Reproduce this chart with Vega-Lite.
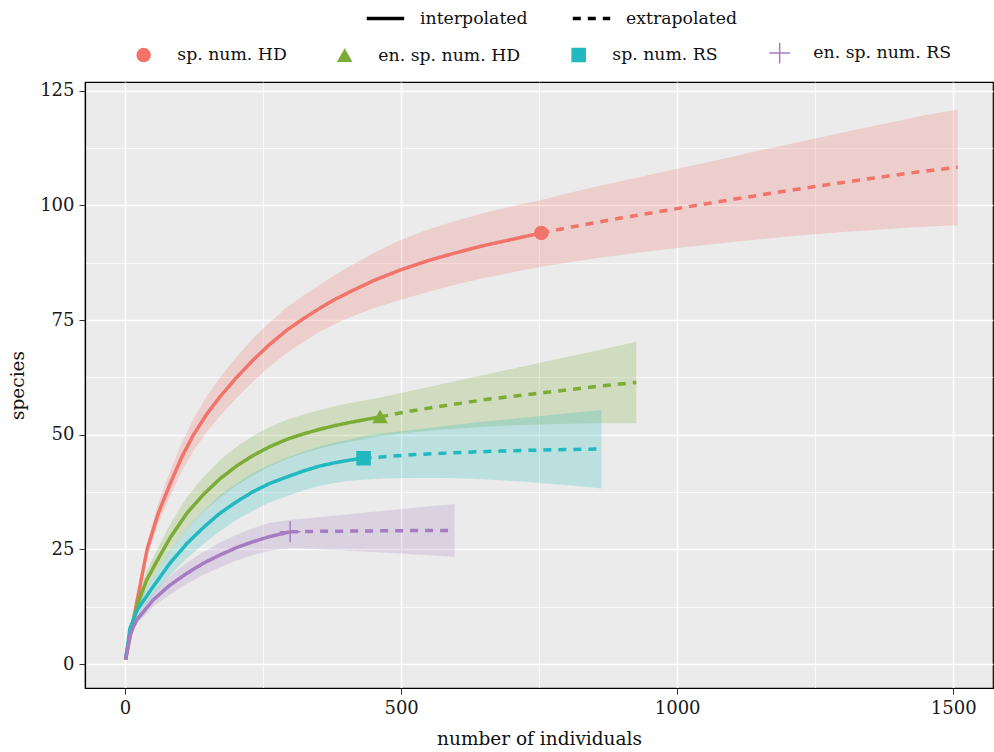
{
  "$schema": "https://vega.github.io/schema/vega-lite/v6.json",
  "width": 908,
  "height": 606,
  "autosize": {"type": "none"},
  "padding": {"left": 85, "top": 82, "right": 1, "bottom": 64},
  "background": "white",
  "config": {
    "view": {"fill": "#EBEBEB", "stroke": "black", "strokeWidth": 1.2},
    "font": "DejaVu Serif",
    "axis": {
      "labelFont": "DejaVu Serif", "titleFont": "DejaVu Serif",
      "labelFontSize": 18, "titleFontSize": 18.5, "labelColor": "#1a1a1a", "titleColor": "#111",
      "titleFontWeight": "normal", "gridColor": "white", "gridWidth": 1.5,
      "domainColor": "black", "domainWidth": 1.2, "tickColor": "#333", "tickSize": 6
    },
    "legend": {"labelFont": "DejaVu Serif", "labelFontSize": 17.3, "labelColor": "#111"}
  },
  "datasets": {
    "curves": [
      {"s": "sp. num. HD", "m": "interpolated", "x": 1, "y": 1, "lo": 1, "hi": 1},
      {"s": "sp. num. HD", "m": "interpolated", "x": 40, "y": 25, "lo": 23.5, "hi": 26.5},
      {"s": "sp. num. HD", "m": "interpolated", "x": 60, "y": 32.8, "lo": 30.6, "hi": 35.0},
      {"s": "sp. num. HD", "m": "interpolated", "x": 82, "y": 39.4, "lo": 36.7, "hi": 42.1},
      {"s": "sp. num. HD", "m": "interpolated", "x": 103, "y": 45.2, "lo": 42.1, "hi": 48.3},
      {"s": "sp. num. HD", "m": "interpolated", "x": 124, "y": 50.0, "lo": 46.5, "hi": 53.5},
      {"s": "sp. num. HD", "m": "interpolated", "x": 148, "y": 54.5, "lo": 50.6, "hi": 58.4},
      {"s": "sp. num. HD", "m": "interpolated", "x": 172, "y": 58.3, "lo": 54.1, "hi": 62.5},
      {"s": "sp. num. HD", "m": "interpolated", "x": 202, "y": 62.5, "lo": 58.0, "hi": 67.0},
      {"s": "sp. num. HD", "m": "interpolated", "x": 232, "y": 66.3, "lo": 61.6, "hi": 71.0},
      {"s": "sp. num. HD", "m": "interpolated", "x": 262, "y": 69.7, "lo": 64.9, "hi": 74.5},
      {"s": "sp. num. HD", "m": "interpolated", "x": 293, "y": 72.8, "lo": 67.8, "hi": 77.8},
      {"s": "sp. num. HD", "m": "interpolated", "x": 323, "y": 75.3, "lo": 70.25, "hi": 80.35},
      {"s": "sp. num. HD", "m": "interpolated", "x": 353, "y": 77.6, "lo": 72.5, "hi": 82.7},
      {"s": "sp. num. HD", "m": "interpolated", "x": 380, "y": 79.5, "lo": 74.15, "hi": 84.85},
      {"s": "sp. num. HD", "m": "interpolated", "x": 408, "y": 81.2, "lo": 75.6, "hi": 86.8},
      {"s": "sp. num. HD", "m": "interpolated", "x": 450, "y": 83.6, "lo": 77.6, "hi": 89.6},
      {"s": "sp. num. HD", "m": "interpolated", "x": 498, "y": 85.9, "lo": 79.4, "hi": 92.4},
      {"s": "sp. num. HD", "m": "interpolated", "x": 550, "y": 88.0, "lo": 81.2, "hi": 94.8},
      {"s": "sp. num. HD", "m": "interpolated", "x": 585, "y": 89.2, "lo": 82.3, "hi": 96.1},
      {"s": "sp. num. HD", "m": "interpolated", "x": 619, "y": 90.3, "lo": 83.3, "hi": 97.3},
      {"s": "sp. num. HD", "m": "interpolated", "x": 655, "y": 91.4, "lo": 84.3, "hi": 98.5},
      {"s": "sp. num. HD", "m": "interpolated", "x": 690, "y": 92.3, "lo": 85.1, "hi": 99.5},
      {"s": "sp. num. HD", "m": "interpolated", "x": 720, "y": 93.1, "lo": 85.85, "hi": 100.35},
      {"s": "sp. num. HD", "m": "interpolated", "x": 754, "y": 94.0, "lo": 86.6, "hi": 101.2},
      {"s": "sp. num. HD", "m": "extrapolated", "x": 754, "y": 94.0, "lo": 86.6, "hi": 101.2},
      {"s": "sp. num. HD", "m": "extrapolated", "x": 800, "y": 95.1, "lo": 87.5, "hi": 102.6},
      {"s": "sp. num. HD", "m": "extrapolated", "x": 850, "y": 96.2, "lo": 88.4, "hi": 104.0},
      {"s": "sp. num. HD", "m": "extrapolated", "x": 900, "y": 97.3, "lo": 89.2, "hi": 105.3},
      {"s": "sp. num. HD", "m": "extrapolated", "x": 950, "y": 98.3, "lo": 90.0, "hi": 106.7},
      {"s": "sp. num. HD", "m": "extrapolated", "x": 1000, "y": 99.3, "lo": 90.7, "hi": 108.0},
      {"s": "sp. num. HD", "m": "extrapolated", "x": 1050, "y": 100.3, "lo": 91.35, "hi": 109.3},
      {"s": "sp. num. HD", "m": "extrapolated", "x": 1100, "y": 101.3, "lo": 92.0, "hi": 110.6},
      {"s": "sp. num. HD", "m": "extrapolated", "x": 1150, "y": 102.25, "lo": 92.6, "hi": 112.0},
      {"s": "sp. num. HD", "m": "extrapolated", "x": 1200, "y": 103.2, "lo": 93.2, "hi": 113.3},
      {"s": "sp. num. HD", "m": "extrapolated", "x": 1250, "y": 104.1, "lo": 93.7, "hi": 114.6},
      {"s": "sp. num. HD", "m": "extrapolated", "x": 1300, "y": 105.0, "lo": 94.2, "hi": 115.9},
      {"s": "sp. num. HD", "m": "extrapolated", "x": 1350, "y": 105.85, "lo": 94.6, "hi": 117.2},
      {"s": "sp. num. HD", "m": "extrapolated", "x": 1400, "y": 106.7, "lo": 95.0, "hi": 118.4},
      {"s": "sp. num. HD", "m": "extrapolated", "x": 1450, "y": 107.5, "lo": 95.35, "hi": 119.7},
      {"s": "sp. num. HD", "m": "extrapolated", "x": 1508, "y": 108.3, "lo": 95.7, "hi": 120.9},

      {"s": "en. sp. num. HD", "m": "interpolated", "x": 1, "y": 1, "lo": 1, "hi": 1},
      {"s": "en. sp. num. HD", "m": "interpolated", "x": 9, "y": 6.7, "lo": 5.9, "hi": 7.5},
      {"s": "en. sp. num. HD", "m": "interpolated", "x": 24, "y": 13.5, "lo": 12.2, "hi": 14.8},
      {"s": "en. sp. num. HD", "m": "interpolated", "x": 39, "y": 18.3, "lo": 16.3, "hi": 20.3},
      {"s": "en. sp. num. HD", "m": "interpolated", "x": 63, "y": 23.6, "lo": 21.0, "hi": 26.2},
      {"s": "en. sp. num. HD", "m": "interpolated", "x": 82, "y": 27.6, "lo": 24.6, "hi": 30.6},
      {"s": "en. sp. num. HD", "m": "interpolated", "x": 112, "y": 32.9, "lo": 29.4, "hi": 36.4},
      {"s": "en. sp. num. HD", "m": "interpolated", "x": 142, "y": 37.0, "lo": 33.2, "hi": 40.8},
      {"s": "en. sp. num. HD", "m": "interpolated", "x": 172, "y": 40.4, "lo": 36.3, "hi": 44.5},
      {"s": "en. sp. num. HD", "m": "interpolated", "x": 202, "y": 43.2, "lo": 39.0, "hi": 47.4},
      {"s": "en. sp. num. HD", "m": "interpolated", "x": 232, "y": 45.5, "lo": 41.2, "hi": 49.8},
      {"s": "en. sp. num. HD", "m": "interpolated", "x": 262, "y": 47.4, "lo": 43.1, "hi": 51.7},
      {"s": "en. sp. num. HD", "m": "interpolated", "x": 293, "y": 49.0, "lo": 44.7, "hi": 53.3},
      {"s": "en. sp. num. HD", "m": "interpolated", "x": 323, "y": 50.2, "lo": 46.0, "hi": 54.4},
      {"s": "en. sp. num. HD", "m": "interpolated", "x": 353, "y": 51.2, "lo": 47.0, "hi": 55.4},
      {"s": "en. sp. num. HD", "m": "interpolated", "x": 380, "y": 52.0, "lo": 47.8, "hi": 56.2},
      {"s": "en. sp. num. HD", "m": "interpolated", "x": 408, "y": 52.7, "lo": 48.5, "hi": 56.9},
      {"s": "en. sp. num. HD", "m": "interpolated", "x": 435, "y": 53.3, "lo": 49.1, "hi": 57.5},
      {"s": "en. sp. num. HD", "m": "interpolated", "x": 462, "y": 53.9, "lo": 49.7, "hi": 58.1},
      {"s": "en. sp. num. HD", "m": "extrapolated", "x": 462, "y": 53.9, "lo": 49.7, "hi": 58.1},
      {"s": "en. sp. num. HD", "m": "extrapolated", "x": 510, "y": 55.0, "lo": 50.4, "hi": 59.4},
      {"s": "en. sp. num. HD", "m": "extrapolated", "x": 560, "y": 56.0, "lo": 51.0, "hi": 60.7},
      {"s": "en. sp. num. HD", "m": "extrapolated", "x": 610, "y": 56.9, "lo": 51.4, "hi": 62.0},
      {"s": "en. sp. num. HD", "m": "extrapolated", "x": 660, "y": 57.8, "lo": 51.8, "hi": 63.3},
      {"s": "en. sp. num. HD", "m": "extrapolated", "x": 710, "y": 58.5, "lo": 52.1, "hi": 64.6},
      {"s": "en. sp. num. HD", "m": "extrapolated", "x": 760, "y": 59.2, "lo": 52.3, "hi": 65.9},
      {"s": "en. sp. num. HD", "m": "extrapolated", "x": 810, "y": 59.9, "lo": 52.4, "hi": 67.2},
      {"s": "en. sp. num. HD", "m": "extrapolated", "x": 860, "y": 60.6, "lo": 52.5, "hi": 68.5},
      {"s": "en. sp. num. HD", "m": "extrapolated", "x": 926, "y": 61.4, "lo": 52.5, "hi": 70.3},

      {"s": "sp. num. RS", "m": "interpolated", "x": 1, "y": 1, "lo": 1, "hi": 1},
      {"s": "sp. num. RS", "m": "interpolated", "x": 9, "y": 7.8, "lo": 7.0, "hi": 8.6},
      {"s": "sp. num. RS", "m": "interpolated", "x": 22, "y": 11.8, "lo": 10.6, "hi": 13.0},
      {"s": "sp. num. RS", "m": "interpolated", "x": 51, "y": 16.9, "lo": 15.0, "hi": 18.8},
      {"s": "sp. num. RS", "m": "interpolated", "x": 80, "y": 21.8, "lo": 19.2, "hi": 24.4},
      {"s": "sp. num. RS", "m": "interpolated", "x": 112, "y": 26.3, "lo": 23.1, "hi": 29.5},
      {"s": "sp. num. RS", "m": "interpolated", "x": 142, "y": 29.8, "lo": 26.2, "hi": 33.4},
      {"s": "sp. num. RS", "m": "interpolated", "x": 172, "y": 32.9, "lo": 29.0, "hi": 36.8},
      {"s": "sp. num. RS", "m": "interpolated", "x": 202, "y": 35.4, "lo": 31.4, "hi": 39.4},
      {"s": "sp. num. RS", "m": "interpolated", "x": 232, "y": 37.6, "lo": 33.5, "hi": 41.7},
      {"s": "sp. num. RS", "m": "interpolated", "x": 262, "y": 39.4, "lo": 35.3, "hi": 43.5},
      {"s": "sp. num. RS", "m": "interpolated", "x": 293, "y": 40.8, "lo": 36.6, "hi": 45.0},
      {"s": "sp. num. RS", "m": "interpolated", "x": 323, "y": 42.1, "lo": 37.9, "hi": 46.3},
      {"s": "sp. num. RS", "m": "interpolated", "x": 353, "y": 43.2, "lo": 38.9, "hi": 47.5},
      {"s": "sp. num. RS", "m": "interpolated", "x": 380, "y": 43.9, "lo": 39.5, "hi": 48.3},
      {"s": "sp. num. RS", "m": "interpolated", "x": 408, "y": 44.5, "lo": 40.0, "hi": 49.0},
      {"s": "sp. num. RS", "m": "interpolated", "x": 432, "y": 44.9, "lo": 40.2, "hi": 49.8},
      {"s": "sp. num. RS", "m": "extrapolated", "x": 432, "y": 44.9, "lo": 40.2, "hi": 49.8},
      {"s": "sp. num. RS", "m": "extrapolated", "x": 480, "y": 45.3, "lo": 40.5, "hi": 50.5},
      {"s": "sp. num. RS", "m": "extrapolated", "x": 530, "y": 45.7, "lo": 40.6, "hi": 51.2},
      {"s": "sp. num. RS", "m": "extrapolated", "x": 580, "y": 46.0, "lo": 40.6, "hi": 51.9},
      {"s": "sp. num. RS", "m": "extrapolated", "x": 630, "y": 46.25, "lo": 40.4, "hi": 52.6},
      {"s": "sp. num. RS", "m": "extrapolated", "x": 680, "y": 46.45, "lo": 40.1, "hi": 53.2},
      {"s": "sp. num. RS", "m": "extrapolated", "x": 730, "y": 46.6, "lo": 39.7, "hi": 53.8},
      {"s": "sp. num. RS", "m": "extrapolated", "x": 780, "y": 46.75, "lo": 39.2, "hi": 54.4},
      {"s": "sp. num. RS", "m": "extrapolated", "x": 830, "y": 46.85, "lo": 38.7, "hi": 55.0},
      {"s": "sp. num. RS", "m": "extrapolated", "x": 863, "y": 46.9, "lo": 38.3, "hi": 55.4},

      {"s": "en. sp. num. RS", "m": "interpolated", "x": 1, "y": 1, "lo": 1, "hi": 1},
      {"s": "en. sp. num. RS", "m": "interpolated", "x": 9, "y": 6.2, "lo": 5.6, "hi": 6.8},
      {"s": "en. sp. num. RS", "m": "interpolated", "x": 15, "y": 8.1, "lo": 7.3, "hi": 8.9},
      {"s": "en. sp. num. RS", "m": "interpolated", "x": 21, "y": 9.6, "lo": 8.7, "hi": 10.5},
      {"s": "en. sp. num. RS", "m": "interpolated", "x": 51, "y": 14.0, "lo": 12.5, "hi": 15.5},
      {"s": "en. sp. num. RS", "m": "interpolated", "x": 80, "y": 17.1, "lo": 15.1, "hi": 19.1},
      {"s": "en. sp. num. RS", "m": "interpolated", "x": 112, "y": 19.8, "lo": 17.5, "hi": 22.1},
      {"s": "en. sp. num. RS", "m": "interpolated", "x": 142, "y": 22.0, "lo": 19.5, "hi": 24.5},
      {"s": "en. sp. num. RS", "m": "interpolated", "x": 172, "y": 23.8, "lo": 21.1, "hi": 26.5},
      {"s": "en. sp. num. RS", "m": "interpolated", "x": 202, "y": 25.4, "lo": 22.6, "hi": 28.2},
      {"s": "en. sp. num. RS", "m": "interpolated", "x": 232, "y": 26.7, "lo": 23.8, "hi": 29.6},
      {"s": "en. sp. num. RS", "m": "interpolated", "x": 262, "y": 27.8, "lo": 24.7, "hi": 30.8},
      {"s": "en. sp. num. RS", "m": "interpolated", "x": 299, "y": 28.85, "lo": 25.3, "hi": 31.4},
      {"s": "en. sp. num. RS", "m": "extrapolated", "x": 299, "y": 28.85, "lo": 25.3, "hi": 31.4},
      {"s": "en. sp. num. RS", "m": "extrapolated", "x": 350, "y": 28.95, "lo": 25.05, "hi": 32.0},
      {"s": "en. sp. num. RS", "m": "extrapolated", "x": 400, "y": 29.0, "lo": 24.8, "hi": 32.6},
      {"s": "en. sp. num. RS", "m": "extrapolated", "x": 450, "y": 29.05, "lo": 24.45, "hi": 33.2},
      {"s": "en. sp. num. RS", "m": "extrapolated", "x": 500, "y": 29.1, "lo": 24.1, "hi": 33.8},
      {"s": "en. sp. num. RS", "m": "extrapolated", "x": 550, "y": 29.12, "lo": 23.75, "hi": 34.35},
      {"s": "en. sp. num. RS", "m": "extrapolated", "x": 597, "y": 29.15, "lo": 23.4, "hi": 34.9}
    ],
    "obs": [
      {"s": "sp. num. HD", "x": 754, "y": 94.0},
      {"s": "en. sp. num. HD", "x": 462, "y": 53.9},
      {"s": "sp. num. RS", "x": 432, "y": 44.9},
      {"s": "en. sp. num. RS", "x": 299, "y": 28.85}
    ]
  },
  "resolve": {"axis": {"x": "independent", "y": "independent"}},
  "layer": [
    {
      "data": {"name": "curves"},
      "mark": {"type": "area", "opacity": 0.23},
      "encoding": {
        "x": {"field": "x", "type": "quantitative", "scale": {"domain": [-72.5, 1572], "nice": false, "zero": false},
              "axis": {"orient": "top", "values": [250, 750, 1250], "grid": true, "gridWidth": 0.7, "labels": false, "ticks": false, "domain": false, "title": null}},
        "y": {"field": "hi", "type": "quantitative", "scale": {"domain": [-5.2, 126.9], "nice": false, "zero": false},
              "axis": {"orient": "right", "values": [12.5, 37.5, 62.5, 87.5, 112.5], "grid": true, "gridWidth": 0.7, "labels": false, "ticks": false, "domain": false, "title": null}},
        "y2": {"field": "lo"},
        "color": {"field": "s", "type": "nominal",
                  "scale": {"domain": ["sp. num. HD", "en. sp. num. HD", "sp. num. RS", "en. sp. num. RS"], "range": ["#F1736A", "#7BAC35", "#22B8BF", "#A57CC2"]},
                  "legend": {"title": null, "orient": "none", "direction": "horizontal", "legendX": 50, "legendY": -38, "symbolSize": 170, "labelOffset": 25, "columnPadding": 48, "symbolOpacity": 1}}
      }
    },
    {
      "data": {"name": "curves"},
      "mark": {"type": "line", "strokeWidth": 3.5},
      "encoding": {
        "x": {"field": "x", "type": "quantitative", "axis": {"title": "number of individuals", "values": [0, 500, 1000, 1500], "format": "d", "grid": true, "labelPadding": 5, "titlePadding": 12}},
        "y": {"field": "y", "type": "quantitative", "axis": {"title": "species", "values": [0, 25, 50, 75, 100, 125], "format": "d", "grid": true, "labelPadding": 5, "titlePadding": 12}},
        "color": {"field": "s", "type": "nominal"},
        "strokeDash": {"field": "m", "type": "nominal",
                       "scale": {"domain": ["interpolated", "extrapolated"], "range": [[1, 0], [8, 7]]},
                       "legend": {"title": null, "orient": "none", "direction": "horizontal", "legendX": 280, "legendY": -84, "symbolSize": 1400, "symbolStrokeColor": "black", "symbolStrokeWidth": 3.5, "labelOffset": 14, "columnPadding": 37}}
      }
    },
    {
      "data": {"name": "obs"},
      "mark": {"type": "point", "filled": true, "opacity": 1, "strokeWidth": 1.5},
      "encoding": {
        "x": {"field": "x", "type": "quantitative", "axis": null},
        "y": {"field": "y", "type": "quantitative", "axis": null},
        "color": {"field": "s", "type": "nominal"},
        "stroke": {"field": "s", "type": "nominal", "legend": null,
                   "scale": {"domain": ["sp. num. HD", "en. sp. num. HD", "sp. num. RS", "en. sp. num. RS"], "range": ["#F1736A", "#7BAC35", "#22B8BF", "#A57CC2"]}},
        "shape": {"field": "s", "type": "nominal",
                  "scale": {"domain": ["sp. num. HD", "en. sp. num. HD", "sp. num. RS", "en. sp. num. RS"], "range": ["circle", "triangle-up", "square", "M-1.6,0H1.6M0,-1.6V1.6"]}},
        "size": {"value": 170}
      }
    }
  ]
}
